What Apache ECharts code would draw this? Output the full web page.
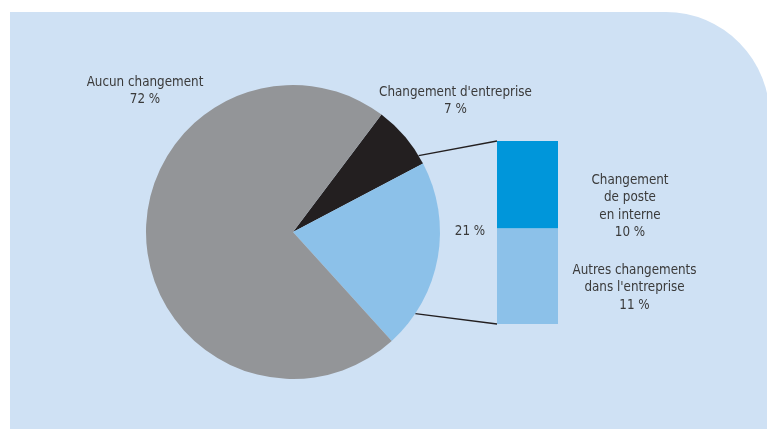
<!DOCTYPE html>
<html>
<head>
<meta charset="utf-8">
<script src="https://cdn.jsdelivr.net/npm/echarts@6/dist/echarts.min.js"></script>
<style>
  html, body { margin: 0; padding: 0; background: #ffffff; }
  #panel {
    position: absolute; left: 10px; top: 12px; width: 760px; height: 430px;
    background: #cfe1f4; border-top-right-radius: 104px 106px;
  }
  #chart { position: absolute; left: 0; top: 0; width: 767px; height: 429px; }
</style>
</head>
<body>
<div id="panel"></div>
<div id="chart"></div>
<script>
// Overall breakdown (pie)
const pieNames = ["Changement d'entreprise", "Changement dans l'entreprise", "Aucun changement"];
const pieValues = [7, 21, 72];
const pieColors = ['#231f20', '#8cc1e9', '#939598'];

// Detail of the 21 % slice (stacked bar, bottom first)
const barNames = ["Autres changements\ndans l'entreprise", "Changement\nde poste\nen interne"];
const barValues = [11, 10];
const barColors = ['#8cc1e9', '#0096da'];

const FONT = '"Liberation Sans Narrow", "DejaVu Sans Condensed", "Noto Sans", sans-serif';
const TEXT_COLOR = '#3a3a3a';

const PIE_CENTER = [293, 232];
const PIE_RADIUS = 147;

// label anchor points (block centres)
const pieLabelSpots = [[455.5, 101], [470, 232], [145, 91]];
const barLabelSpots = [[634.5, 288], [630, 206.5]];

const chart = echarts.init(document.getElementById('chart'), null, { renderer: 'canvas' });

const labelStyle = {
  show: true,
  fontFamily: FONT,
  fontSize: 13.3,
  lineHeight: 17.5,
  color: TEXT_COLOR,
  align: 'center',
  overflow: 'none'
};

const option = {
  backgroundColor: 'transparent',
  animation: false,
  grid: { left: 497, top: 141, width: 61, height: 183 },
  xAxis: { type: 'category', data: ['detail'], show: false },
  yAxis: { type: 'value', min: 0, max: pieValues[1], show: false },
  series: [
    {
      type: 'pie',
      center: PIE_CENTER,
      radius: PIE_RADIUS,
      startAngle: 53,
      clockwise: true,
      silent: true,
      emphasis: { disabled: true },
      itemStyle: { borderWidth: 0 },
      data: pieNames.map((n, i) => ({ name: n, value: pieValues[i], itemStyle: { color: pieColors[i] } })),
      label: Object.assign({}, labelStyle, {
        position: 'outside',
        alignTo: 'none',
        formatter: p => p.dataIndex === 1 ? p.value + ' %' : p.name + '\n' + p.value + ' %'
      }),
      labelLine: { show: false },
      labelLayout: p => ({
        x: pieLabelSpots[p.dataIndex][0],
        y: pieLabelSpots[p.dataIndex][1],
        align: 'center',
        verticalAlign: 'middle',
        width: 300
      })
    }
  ].concat(barNames.map((n, i) => ({
    type: 'bar',
    name: n,
    stack: 'detail',
    barWidth: '100%',
    silent: true,
    emphasis: { disabled: true },
    itemStyle: { color: barColors[i] },
    data: [barValues[i]],
    label: Object.assign({}, labelStyle, {
      position: 'right',
      formatter: p => p.seriesName + '\n' + p.value + ' %'
    }),
    labelLayout: () => ({
      x: barLabelSpots[i][0],
      y: barLabelSpots[i][1],
      align: 'center',
      verticalAlign: 'middle'
    })
  })))
};

chart.setOption(option);

// connector lines from the pie rim to the corners of the detail bar
const rimAngles = [31.3, -33.7];
const barTop = chart.convertToPixel({ yAxisIndex: 0 }, pieValues[1]);
const barBottom = chart.convertToPixel({ yAxisIndex: 0 }, 0);
const barLeft = option.grid.left;
const ends = [[barLeft, barTop], [barLeft, barBottom]];
chart.setOption({
  graphic: rimAngles.map((a, i) => {
    const rad = a * Math.PI / 180;
    return {
      type: 'line',
      silent: true,
      shape: {
        x1: PIE_CENTER[0] + PIE_RADIUS * Math.cos(rad),
        y1: PIE_CENTER[1] - PIE_RADIUS * Math.sin(rad),
        x2: ends[i][0],
        y2: ends[i][1]
      },
      style: { stroke: '#231f20', lineWidth: 1.3 }
    };
  })
});
</script>
</body>
</html>
